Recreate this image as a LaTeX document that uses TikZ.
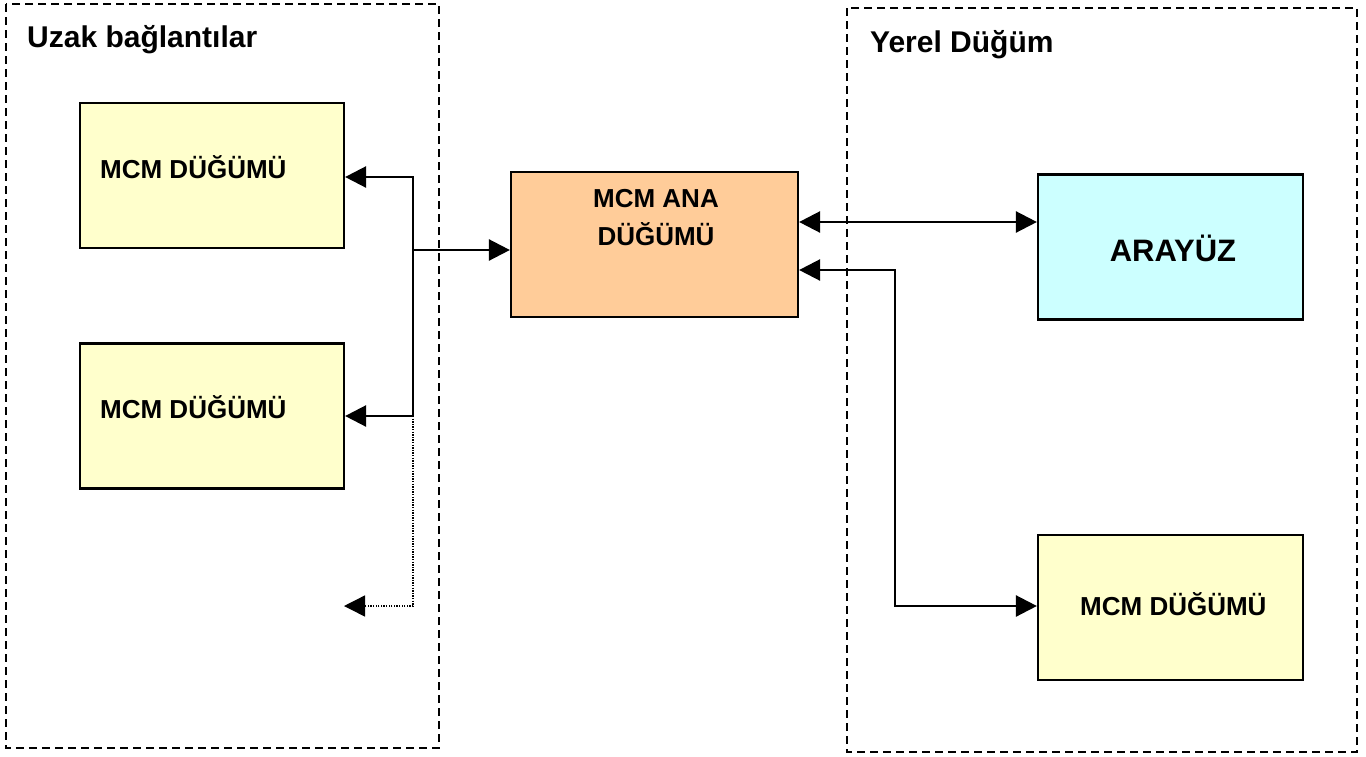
\documentclass[tikz,border=0pt]{standalone}
\usepackage{fontspec}
\setmainfont{Liberation Sans}
\usetikzlibrary{arrows.meta}
\definecolor{nodeyellow}{HTML}{FFFFCC}
\definecolor{nodeorange}{HTML}{FFCC99}
\definecolor{nodecyan}{HTML}{CCFFFF}
\begin{document}
\begin{tikzpicture}[x=1pt,y=-1pt,
  region/.style={draw, line width=2pt, dash pattern=on 8pt off 5pt},
  box/.style={draw, line width=2.2pt, minimum width=264pt, minimum height=145pt, inner sep=0pt},
  lbl/.style={font=\bfseries\fontsize{26}{29}\selectfont, inner sep=0pt, anchor=base west},
  title/.style={font=\bfseries\fontsize{30}{34}\selectfont, inner sep=0pt, anchor=base west},
  conn/.style={line width=2.5pt, {Triangle[length=21pt,width=21pt]}-{Triangle[length=21pt,width=21pt]}},
  connr/.style={line width=2.5pt, -{Triangle[length=21pt,width=21pt]}},
  dotline/.style={line width=1.4pt, dash pattern=on 1.3pt off 1.3pt, -{Triangle[length=21pt,width=21pt]}}
]
\useasboundingbox (0,0) rectangle (1366,756);
% regions
\draw[region] (6,4) rectangle (439,748);
\draw[region] (847,8) rectangle (1357,752);
\node[title] (tl) at (27,47) {Uzak bağlantılar};
\node[title] (tr) at (870,52) {Yerel Düğüm};
% boxes
\node[box, fill=nodeyellow] (b1) at (212,175.5) {};
\node[box, fill=nodeyellow] (b2) at (212,416) {};
\node[box, fill=nodeorange, minimum width=287pt] (ana) at (654.5,244.5) {};
\node[box, fill=nodecyan, minimum width=265pt] (ary) at (1170.5,247) {};
\node[box, fill=nodeyellow, minimum width=265pt] (rb) at (1170.5,607.5) {};
% labels
\node[lbl] (l1) at (100,178) {MCM DÜĞÜMÜ};
\node[lbl] (l2) at (100,418.5) {MCM DÜĞÜMÜ};
\node[lbl] (l3) at (1080,615) {MCM DÜĞÜMÜ};
\node[font=\bfseries\fontsize{26}{38}\selectfont, inner sep=0pt, align=center, anchor=north] (la) at (656,189) {MCM ANA\\DÜĞÜMÜ};
\node[font=\bfseries\fontsize{31}{36}\selectfont, inner sep=0pt, anchor=base] (lr) at (1173,261) {ARAYÜZ};
% connectors
\coordinate (t1) at (413,177);
\coordinate (t2) at (413,416);
\coordinate (tm) at (413,250);
\coordinate (t3) at (413,606);
\coordinate (d) at (344,606);
\coordinate (h) at (920,222);
\coordinate (k1) at (895,270);
\coordinate (k2) at (895,606);
\draw[conn] (t1 -| b1.east) -- (t1) -- (t2) -- (t2 -| b2.east);
\draw[connr] (tm) -- (tm -| ana.west);
\draw[dotline] (t2) -- (t3) -- (d);
\draw[conn] (h -| ana.east) -- (h -| ary.west);
\draw[conn] (k1 -| ana.east) -- (k1) -- (k2) -- (k2 -| rb.west);
\end{tikzpicture}
\end{document}
